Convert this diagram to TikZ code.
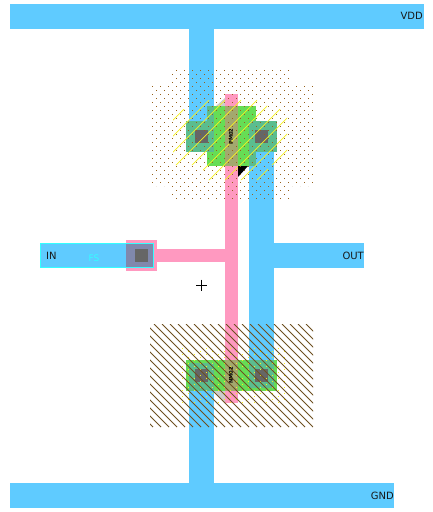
\documentclass[tikz,border=0pt]{standalone}
\usepackage{fontspec}
\setmainfont{DejaVu Sans}
\definecolor{metal}{HTML}{5FCBFF}
\definecolor{poly}{HTML}{FF99C0}
\definecolor{diff}{HTML}{66DD55}
\definecolor{teal1}{HTML}{5BBD8F}
\definecolor{polydiff}{HTML}{A3A86E}
\definecolor{polymetal}{HTML}{8088AD}
\definecolor{contactg}{HTML}{666666}
\definecolor{brownh}{HTML}{6E5020}
\definecolor{brownd}{HTML}{96601A}
\definecolor{yellowh}{HTML}{F5F020}
\definecolor{cyanb}{HTML}{33FFFF}
\tikzset{
  metalbox/.style={fill=metal,draw=none},
  polybox/.style={fill=poly,draw=none},
  diffbox/.style={fill=diff,draw=none},
  overlapbox/.style={fill=teal1,draw=none},
  polydiffbox/.style={fill=polydiff,draw=none},
  contactbox/.style={fill=contactg,draw=none},
  lbl/.style={inner sep=0pt,font=\fontsize{10}{12}\selectfont,text=black!90},
  devlbl/.style={inner sep=0pt,rotate=90,font=\fontsize{5.2}{5.2}\selectfont\bfseries,text=black}
}
\begin{document}
\begin{tikzpicture}[x=1pt,y=-1pt]
\useasboundingbox (0,0) rectangle (432,512);
\fill[white] (0,0) rectangle (432,512);
% metal
\fill[metalbox] (10,4) rectangle (424,29);
\fill[metalbox] (10,483) rectangle (394,508);
\fill[metalbox] (189,29) rectangle (214,152);
\fill[metalbox] (189,391) rectangle (214,483);
\fill[metalbox] (249,121) rectangle (274,388);
\fill[metalbox] (274,243) rectangle (364,268);
\fill[metalbox] (40,243) rectangle (153,268);
% poly
\fill[polybox] (225,94) rectangle (238,403);
\fill[polybox] (157,249) rectangle (225,262);
\fill[polybox] (126,240) rectangle (157,271);
\fill[polymetal] (126,243) rectangle (153,268);
\draw[cyanb,line width=1pt] (40.5,243.5) rectangle (153,267.5);
% diffusion top
\fill[diffbox] (207,106) rectangle (256,166);
\fill[diffbox] (186,121) rectangle (277,152);
\fill[overlapbox] (186,121) rectangle (214,152);
\fill[overlapbox] (207,106) rectangle (214,121);
\fill[overlapbox] (249,121) rectangle (277,152);
\fill[overlapbox] (249,152) rectangle (256,166);
\fill[polydiffbox] (225,106) rectangle (238,166);
% diffusion bottom
\fill[diffbox] (186,360) rectangle (277,391);
\fill[overlapbox] (189,363) rectangle (214,391);
\fill[overlapbox] (249,360) rectangle (274,388);
\fill[polydiffbox] (225,360) rectangle (238,391);
% triangles
\fill[black!20] (216,106) -- (225,98) -- (225,106) -- cycle;
\fill[black!20] (214,391) -- (225,391) -- (225,403) -- cycle;
% contacts
\fill[contactbox] (195,130) rectangle (208,143);
\fill[contactbox] (255,130) rectangle (268,143);
\fill[contactbox] (195,369) rectangle (208,382);
\fill[contactbox] (255,369) rectangle (268,382);
\fill[contactbox] (135,249) rectangle (148,262);
% yellow hatch (top)
\begin{scope}
\clip (197,93) -- (267,93) -- (267,109) -- (287,109) -- (287,165) -- (268,165) -- (268,180) -- (203,180) -- (203,165) -- (173,165) -- (173,109) -- (197,109) -- cycle;
\foreach \c in {261,277,...,477} {
  \draw[yellowh,line width=.7pt] (\c-100,100) -- (\c-200,200);
}
\end{scope}
\fill[black] (238,166) -- (248,166) -- (238,177) -- cycle;
% brown dots (top)
\begin{scope}
\clip (172,70) -- (290,70) -- (290,86) -- (313,86) -- (313,186) -- (290,186) -- (290,200) -- (172,200) -- (172,186) -- (152,186) -- (152,86) -- (172,86) -- cycle;
\foreach \i in {0,...,41} {
  \foreach \j in {0,...,16} {
    \pgfmathsetmacro{\xx}{152+4*\i}
    \pgfmathsetmacro{\yy}{70+8*\j+2*mod(\i,2)*2}
    \fill[brownd] (\xx,\yy) rectangle +(1.2,1.2);
  }
}
\end{scope}
% yellow dots (bottom)
\begin{scope}
\clip (182,348) rectangle (286,402);
\foreach \i in {0,...,17} {
  \foreach \j in {0,...,9} {
    \pgfmathsetmacro{\xx}{182+6*\i}
    \pgfmathsetmacro{\yy}{348+6*\j+3*mod(\i,2)}
    \fill[yellowh] (\xx,\yy) rectangle +(.9,.9);
  }
}
\end{scope}
% brown hatch (bottom)
\begin{scope}
\clip (150,324) rectangle (313,427);
\foreach \c in {-290,-282,...,-10} {
  \draw[brownh,line width=.9pt] (\c+324,324) -- (\c+427,427);
}
\end{scope}
% labels
\node[lbl,anchor=east] (vdd) at (423,16) {VDD};
\node[lbl,anchor=east] (gnd) at (394,495.5) {GND};
\node[lbl,anchor=east] (out) at (364,255.5) {OUT};
\node[lbl,anchor=west] (in) at (46,255.5) {IN};
\node[inner sep=0pt,font=\fontsize{9}{10}\selectfont,text=cyanb] (fs) at (94,258.5) {FS};
\node[devlbl] (pm) at (231,136.5) {PM02};
\node[devlbl] (nm) at (231,375.5) {NM02};
\draw[black,line width=.8pt] (196,285) -- (207,285) (201.5,279.5) -- (201.5,290.5);
\end{tikzpicture}
\end{document}
